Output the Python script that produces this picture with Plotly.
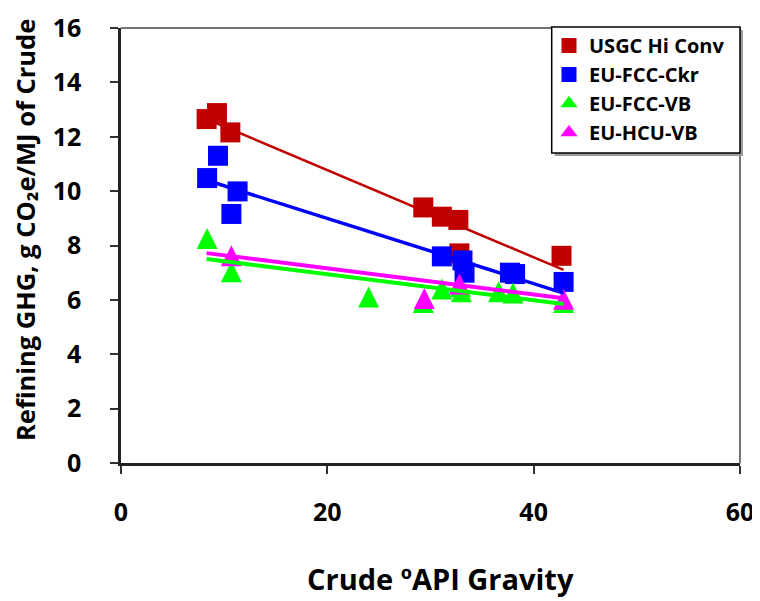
import plotly.graph_objects as go

# ---- data ----
series_names = ["USGC Hi Conv", "EU-FCC-Ckr", "EU-FCC-VB", "EU-HCU-VB"]

usgc_x = [8.3, 9.3, 10.6, 29.3, 31.1, 32.7, 32.8, 42.7]
usgc_y = [12.65, 12.87, 12.16, 9.4, 9.06, 8.94, 7.71, 7.62]

ckr_x = [9.4, 8.35, 11.3, 10.7, 31.1, 33.1, 33.3, 37.7, 38.2, 42.9]
ckr_y = [11.3, 10.48, 9.99, 9.16, 7.6, 7.45, 7.0, 7.0, 6.95, 6.66]

vb_x = [8.35, 10.7, 24.0, 29.3, 31.1, 32.9, 33.0, 36.6, 38.0, 42.9]
vb_y = [8.26, 7.03, 6.11, 5.9, 6.4, 6.49, 6.3, 6.3, 6.25, 5.9]

hcu_x = [10.7, 29.4, 32.8, 42.9]
hcu_y = [7.62, 6.05, 6.58, 6.02]

trend_x = [8.3, 42.9]
usgc_trend = [12.65, 7.1]
ckr_trend = [10.4, 6.25]
vb_trend = [7.5, 5.85]
hcu_trend = [7.72, 6.06]

x_ticks = [0, 20, 40, 60]
y_ticks = [0, 2, 4, 6, 8, 10, 12, 14, 16]

x_title = "Crude ºAPI Gravity"
y_title = "Refining GHG, g CO₂e/MJ of Crude"

RED = "#C00000"
BLUE = "#0000FF"
GREEN = "#00FF00"
MAGENTA = "#FF00FF"
FONT = "Open Sans"

# plot area in page pixels (reference): left 121, right 740, top 28, bottom 463
PW, PH = 619.0, 435.0
OFF = 8  # browser default body margin shifts the figure by 8px

fig = go.Figure()

sq = dict(symbol="square", size=20)
tri = dict(symbol="arrow-down", size=21, angle=180, standoff=10.5)

fig.add_trace(go.Scatter(x=usgc_x, y=usgc_y, mode="markers", showlegend=False,
                         marker=dict(color=RED, **sq)))
fig.add_trace(go.Scatter(x=ckr_x, y=ckr_y, mode="markers", showlegend=False,
                         marker=dict(color=BLUE, **sq)))
fig.add_trace(go.Scatter(x=vb_x, y=vb_y, mode="markers", showlegend=False,
                         marker=dict(color=GREEN, **tri)))
fig.add_trace(go.Scatter(x=hcu_x, y=hcu_y, mode="markers", showlegend=False,
                         marker=dict(color=MAGENTA, **tri)))

for ty, col, w in [(usgc_trend, RED, 2.5), (ckr_trend, BLUE, 3.5),
                   (vb_trend, GREEN, 4), (hcu_trend, MAGENTA, 4)]:
    fig.add_trace(go.Scatter(x=trend_x, y=ty, mode="lines", showlegend=False,
                             line=dict(color=col, width=w), hoverinfo="skip"))

# legend-only entries
for i, (nm, col, sym) in enumerate(zip(series_names, [RED, BLUE, GREEN, MAGENTA],
                                       ["square", "square", "triangle-up", "triangle-up"])):
    fig.add_trace(go.Scatter(x=[None], y=[None], mode="markers", name=nm,
                             marker=dict(color=col, symbol=sym, size=15),
                             legendgroup="g%d" % i))

# legend box with shadow
lx0, lx1 = (551.7 - 121) / PW, (740 - 121) / PW
ly0, ly1 = (463 - 153) / PH, (463 - 27) / PH
fig.add_shape(type="rect", xref="paper", yref="paper",
              x0=lx0 + 3 / PW, x1=lx1 + 3 / PW, y0=ly0 - 3 / PH, y1=ly1 - 3 / PH,
              line=dict(width=0), fillcolor="#9a9a9a", layer="above")
fig.add_shape(type="rect", xref="paper", yref="paper",
              x0=lx0, x1=lx1, y0=ly0, y1=ly1,
              line=dict(color="black", width=1.5), fillcolor="white", layer="above")
# top and right border of plot area
fig.add_shape(type="path", xref="paper", yref="paper",
              path="M 0 1 L 1 1 L 1 0", line=dict(color="#444", width=1.5), layer="below")

# axis titles as annotations (positioned like the reference)
fig.add_annotation(text=y_title, xref="paper", yref="paper",
                   x=(25 - 121) / PW, y=(463 - 230) / PH, textangle=-90,
                   showarrow=False, xanchor="center", yanchor="middle",
                   font=dict(family=FONT, size=25.5, color="black", weight=700))
fig.add_annotation(text=x_title, xref="paper", yref="paper",
                   x=(440 - 121) / PW, y=(463 - 578) / PH,
                   showarrow=False, xanchor="center", yanchor="middle",
                   font=dict(family=FONT, size=29, color="black", weight=700))

fig.update_layout(
    width=760, height=601,
    margin=dict(l=121 - OFF, r=760 - (740 - OFF), t=28 - OFF, b=601 - (463 - OFF),
                autoexpand=False),
    paper_bgcolor="white", plot_bgcolor="white",
    font=dict(family=FONT, color="black"),
    showlegend=True,
    legend=dict(x=(549 - 121) / PW, y=ly1 + 1 / PH, xanchor="left", yanchor="top",
                bgcolor="rgba(0,0,0,0)", borderwidth=0,
                font=dict(family=FONT, size=20, color="black", weight=700),
                itemwidth=30, traceorder="grouped", tracegroupgap=0),
    xaxis=dict(range=[0, 60], tickvals=x_ticks, ticks="outside", ticklen=8,
               tickwidth=1.5, tickcolor="#333", showline=True, linecolor="#222",
               linewidth=2.5, showgrid=False, zeroline=False, automargin=False,
               tickfont=dict(family=FONT, size=25, weight=700),
               ticklabelstandoff=17),
    yaxis=dict(range=[0, 16], tickvals=y_ticks, ticks="outside", ticklen=8,
               tickwidth=1.5, tickcolor="#333", showline=True, linecolor="#222",
               linewidth=2.5, showgrid=False, zeroline=False, automargin=False,
               tickfont=dict(family=FONT, size=25, weight=700),
               ticklabelstandoff=24),
)

fig.write_html("out.html")
